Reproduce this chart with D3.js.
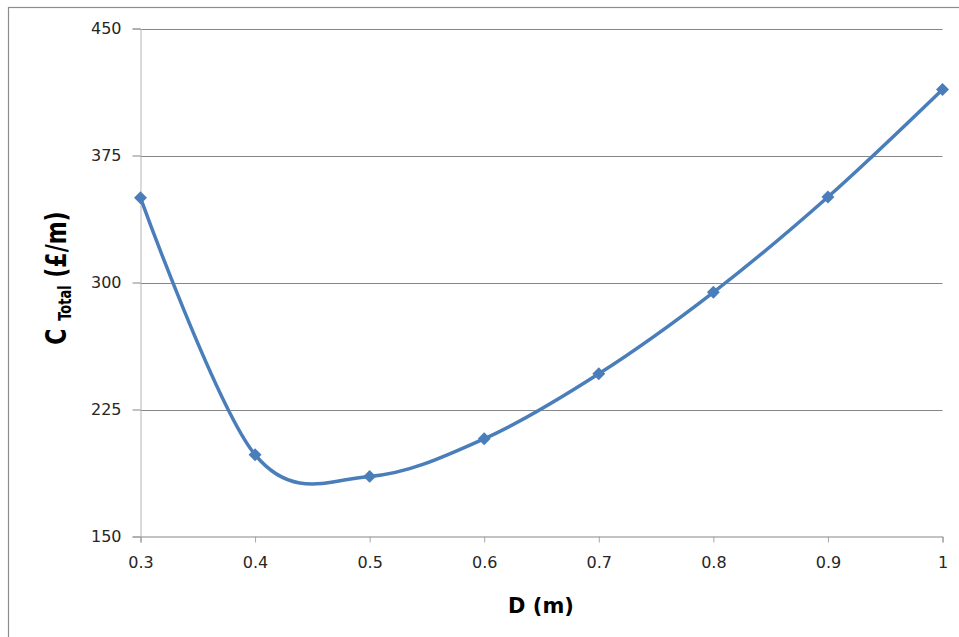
<!DOCTYPE html>
<html>
<head>
<meta charset="utf-8">
<script src="https://cdn.jsdelivr.net/npm/d3@7"></script>
<style>
  html, body { margin: 0; padding: 0; background: #fff; }
  svg { display: block; }
</style>
</head>
<body>
<div id="chart"></div>
<script>
// Chart data
const diameters = [0.3, 0.4, 0.5, 0.6, 0.7, 0.8, 0.9, 1.0];
const totalCost = [350, 198.3, 185.5, 207.7, 246.1, 294.2, 350.5, 414];
const yTicks = [150, 225, 300, 375, 450];
const xTicks = [0.3, 0.4, 0.5, 0.6, 0.7, 0.8, 0.9, 1.0];

const W = 959, H = 637;
const plot = { left: 140.5, right: 942.5, top: 28.5, bottom: 536.5 };
const lineColor = '#4a7ebb';
const font = '"DejaVu Sans", sans-serif';

const svg = d3.select('#chart').append('svg')
  .attr('width', W)
  .attr('height', H);

svg.append('rect').attr('width', W).attr('height', H).attr('fill', '#fff');

// chart area border (clipped on right/bottom like the screenshot)
svg.append('rect')
  .attr('x', 8.5).attr('y', 7.5)
  .attr('width', 1200).attr('height', 1200)
  .attr('fill', 'none')
  .attr('stroke', '#8c8c8c')
  .attr('stroke-width', 1.2);

const x = d3.scaleLinear().domain([0.3, 1.0]).range([plot.left, plot.right]);
const y = d3.scaleLinear().domain([150, 450]).range([plot.bottom, plot.top]);

// horizontal gridlines
svg.append('g')
  .selectAll('line')
  .data(yTicks.filter(d => d > 150))
  .enter().append('line')
  .attr('x1', plot.left).attr('x2', plot.right)
  .attr('y1', d => Math.round(y(d)) + 0.5)
  .attr('y2', d => Math.round(y(d)) + 0.5)
  .attr('stroke', '#868686')
  .attr('stroke-width', 1);

// y axis
const yAxis = d3.axisLeft(y)
  .tickValues(yTicks)
  .tickSize(8)
  .tickPadding(11)
  .tickFormat(d3.format('d'));

const gy = svg.append('g')
  .attr('transform', `translate(${plot.left},0)`)
  .call(yAxis);
gy.select('.domain').attr('stroke', '#b4b4b4');
gy.selectAll('.tick line').attr('stroke', '#868686');
gy.selectAll('text')
  .attr('fill', '#262626')
  .style('font-family', font)
  .style('font-size', '16px');

// x axis
const xAxis = d3.axisBottom(x)
  .tickValues(xTicks)
  .tickSize(6)
  .tickPadding(14)
  .tickFormat(d => d === 1 ? '1' : d3.format('.1f')(d));

const gx = svg.append('g')
  .attr('transform', `translate(0,${plot.bottom})`)
  .call(xAxis);
gx.select('.domain').attr('stroke', '#868686');
gx.selectAll('.tick line').attr('stroke', '#a6a6a6');
gx.selectAll('text')
  .attr('fill', '#262626')
  .style('font-family', font)
  .style('font-size', '16px');

// smoothed line (Excel style smoothing ~ uniform Catmull-Rom)
const line = d3.line()
  .x((d, i) => x(diameters[i]))
  .y(d => y(d))
  .curve(d3.curveCardinal.tension(0));

svg.append('path')
  .datum(totalCost)
  .attr('d', line)
  .attr('fill', 'none')
  .attr('stroke', lineColor)
  .attr('stroke-width', 3.5)
  .attr('stroke-linejoin', 'round')
  .attr('stroke-linecap', 'round');

// diamond markers
svg.append('g')
  .selectAll('path')
  .data(totalCost)
  .enter().append('path')
  .attr('d', d3.symbol().type(d3.symbolSquare).size(84))
  .attr('transform', (d, i) => `translate(${x(diameters[i])},${y(d)}) rotate(45)`)
  .attr('fill', lineColor);

// x axis title
svg.append('text')
  .attr('x', 541)
  .attr('y', 613)
  .attr('text-anchor', 'middle')
  .style('font-family', font)
  .style('font-weight', 'bold')
  .style('font-size', '21px')
  .attr('fill', '#000')
  .text('D (m)');

// y axis title, rotated, with subscript
const yTitle = svg.append('text')
  .attr('transform', 'translate(66,278) rotate(-90) scale(1,1.3)')
  .attr('text-anchor', 'middle')
  .style('font-family', font)
  .style('font-weight', 'bold')
  .style('font-size', '22px')
  .attr('fill', '#000');
yTitle.append('tspan').text('C ');
yTitle.append('tspan').attr('dy', 4).style('font-size', '13px').text('Total');
yTitle.append('tspan').attr('dy', -4).text(' (£/m)');
</script>
</body>
</html>
